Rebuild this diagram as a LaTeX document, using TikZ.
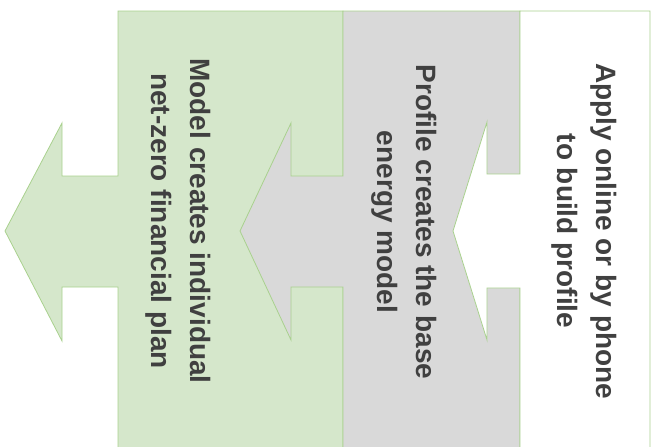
\documentclass[tikz,border=0pt]{standalone}
\usepackage{fontspec}
\setmainfont{Liberation Sans}
\usepackage{tikz}

\definecolor{leafgreen}{HTML}{D5E7CB}
\definecolor{edgegreen}{HTML}{A9D18E}
\definecolor{paleGray}{HTML}{D9D9D9}
\definecolor{inkgray}{HTML}{404040}

\begin{document}
\begin{tikzpicture}[x=1pt,y=-1pt,
    stage/.style={draw=edgegreen,line width=0.8pt,line join=miter},
    caption/.style={rotate=-90,align=center,text=inkgray,inner sep=0pt,
        font=\fontsize{28}{39}\selectfont\bfseries}]
\useasboundingbox (0,0) rectangle (656,447);
\clip (0,0) rectangle (656,447);
% plan (green)
\draw[stage,fill=leafgreen] (118,11) -- (343,11) -- (343,470) -- (118,470) -- (118,287)
    -- (62,287) -- (62,341) -- (5,231) -- (62,123) -- (62,176) -- (118,176) -- cycle;
% model (gray)
\draw[stage,fill=paleGray] (343,11) -- (520,11) -- (520,470) -- (343,470) -- (343,287)
    -- (291,287) -- (291,340) -- (240,231) -- (291,123) -- (291,176) -- (343,176) -- cycle;
% profile (white)
\draw[stage,fill=white] (520,11) -- (650,11) -- (650,470) -- (520,470) -- (520,288)
    -- (487,288) -- (487,340) -- (453,231) -- (487,122) -- (487,174) -- (520,174) -- cycle;
\node[caption] (apply) at (584,231) {Apply online or by phone\\to build profile};
\node[caption] (profile) at (404,222) {Profile creates the base\\energy model};
\node[caption] (model) at (178,221) {Model creates individual\\net-zero financial plan};
\end{tikzpicture}
\end{document}
